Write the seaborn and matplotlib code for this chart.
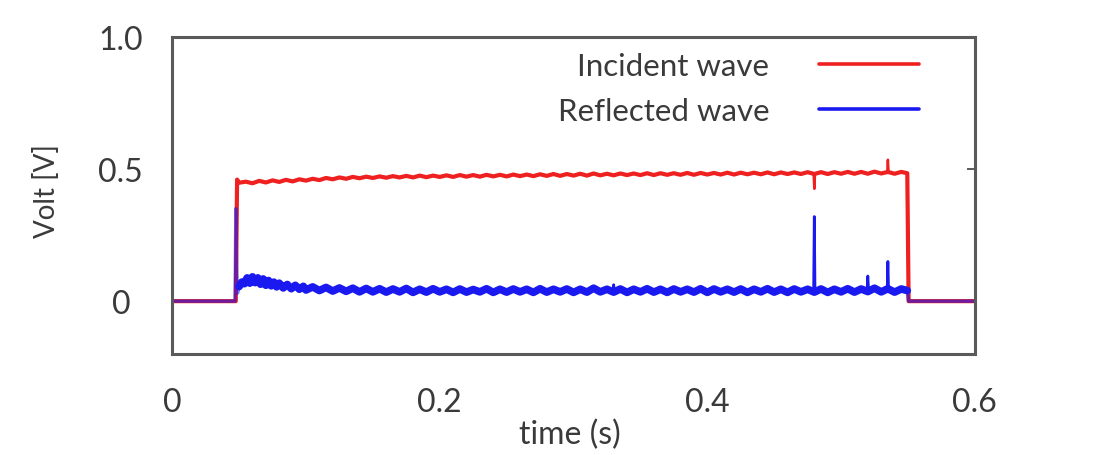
import numpy as np
import pandas as pd
import matplotlib
matplotlib.use("Agg")
import matplotlib.pyplot as plt
import seaborn as sns

# ---------------- data ----------------
grid_t = [round(0.100 + 0.005 * i, 3) for i in range(90)]  # 0.100 .. 0.545 sample times

# Reflected wave: quiet baseline + leading spike, noisy body, trailing drop
refl_pre_t = [0.0, 0.047, 0.0475, 0.0482, 0.0488, 0.050]
refl_pre_v = [0.0, 0.0, 0.35, 0.12, 0.03, 0.055]
refl_head_t = [0.050, 0.052, 0.054, 0.056, 0.058,
               0.060, 0.062, 0.064, 0.066, 0.068, 0.070, 0.072, 0.074, 0.076, 0.078,
               0.080, 0.083, 0.086, 0.089, 0.092, 0.095, 0.098]
refl_head_v = [0.055, 0.072, 0.066, 0.088, 0.068,
               0.092, 0.07, 0.088, 0.064, 0.084, 0.060, 0.078, 0.058, 0.072, 0.054,
               0.068, 0.050, 0.063, 0.047, 0.060, 0.045, 0.056]
refl_grid_v = [0.042, 0.054, 0.040, 0.052, 0.038, 0.050, 0.037, 0.049, 0.035, 0.048,
               0.035, 0.047, 0.034, 0.046, 0.035, 0.048, 0.033, 0.045, 0.034, 0.047,
               0.035, 0.045, 0.033, 0.046, 0.034, 0.044, 0.035, 0.047, 0.033, 0.045,
               0.034, 0.046, 0.035, 0.045, 0.033, 0.047, 0.034, 0.045, 0.035, 0.046,
               0.033, 0.045, 0.034, 0.049, 0.035, 0.045, 0.034, 0.046, 0.033, 0.045,
               0.035, 0.047, 0.034, 0.045, 0.033, 0.046, 0.035, 0.045, 0.034, 0.047,
               0.033, 0.046, 0.035, 0.045, 0.034, 0.046, 0.033, 0.045, 0.035, 0.047,
               0.034, 0.045, 0.033, 0.046, 0.035, 0.045, 0.034, 0.046, 0.033, 0.045,
               0.035, 0.047, 0.034, 0.046, 0.036, 0.049, 0.035, 0.047, 0.034, 0.046]
refl_body_end_t = [0.5495]
refl_body_end_v = [0.040]
refl_post_t = [0.5495, 0.5505, 0.6]
refl_post_v = [0.040, 0.0, 0.0]
refl_spike_id = [1, 1, 1, 2, 2, 2, 3, 3, 3, 4, 4, 4]
refl_spike_t = [0.4795, 0.480, 0.4805, 0.5345, 0.535, 0.5355,
                0.5195, 0.520, 0.5205, 0.3295, 0.330, 0.3305]
refl_spike_v = [0.040, 0.320, 0.040, 0.040, 0.150, 0.040,
                0.045, 0.095, 0.045, 0.040, 0.062, 0.040]

# Incident wave
inc_head_t = [0.0, 0.0475, 0.0485, 0.050, 0.055, 0.060, 0.065, 0.070, 0.075, 0.080,
              0.085, 0.090, 0.095]
inc_head_v = [0.0, 0.0, 0.46, 0.448, 0.452, 0.446, 0.455, 0.449, 0.457, 0.451,
              0.459, 0.453, 0.461]
inc_grid_v = [0.456, 0.463, 0.458, 0.466, 0.461, 0.468, 0.463, 0.470, 0.465, 0.471,
              0.466, 0.472, 0.467, 0.473, 0.468, 0.474, 0.468, 0.475, 0.469, 0.475,
              0.470, 0.476, 0.470, 0.477, 0.471, 0.477, 0.471, 0.478, 0.472, 0.478,
              0.472, 0.479, 0.473, 0.479, 0.473, 0.480, 0.474, 0.481, 0.474, 0.481,
              0.475, 0.482, 0.475, 0.483, 0.476, 0.482, 0.476, 0.483, 0.477, 0.483,
              0.477, 0.484, 0.477, 0.484, 0.478, 0.484, 0.478, 0.485, 0.478, 0.485,
              0.479, 0.485, 0.479, 0.486, 0.479, 0.486, 0.480, 0.486, 0.480, 0.487,
              0.480, 0.487, 0.481, 0.487, 0.481, 0.488, 0.481, 0.488, 0.481, 0.488,
              0.482, 0.489, 0.482, 0.489, 0.482, 0.490, 0.483, 0.489, 0.482, 0.489]
inc_tail_t = [0.5495, 0.5505, 0.6]
inc_tail_v = [0.484, 0.0, 0.0]
inc_spike_id = [1, 1, 1, 2, 2, 2]
inc_spike_t = [0.4795, 0.480, 0.4805, 0.5345, 0.535, 0.5355]
inc_spike_v = [0.481, 0.425, 0.481, 0.485, 0.535, 0.485]

series_names = ["Incident wave", "Reflected wave"]
x_ticks = [0, 0.2, 0.4, 0.6]
x_labels = ["0", "0.2", "0.4", "0.6"]
y_ticks = [0, 0.5, 1.0]
y_labels = ["0", "0.5", "1.0"]

# ---------------- build frames ----------------
inc = pd.DataFrame({"t": inc_head_t + grid_t + inc_tail_t,
                    "v": inc_head_v + inc_grid_v + inc_tail_v})
refl_body = pd.DataFrame({"t": refl_head_t + grid_t + refl_body_end_t,
                          "v": refl_head_v + refl_grid_v + refl_body_end_v})
refl_edges = pd.DataFrame({"id": [0] * len(refl_pre_t) + [1] * len(refl_post_t),
                           "t": refl_pre_t + refl_post_t,
                           "v": refl_pre_v + refl_post_v})
inc_sp = pd.DataFrame({"id": inc_spike_id, "t": inc_spike_t, "v": inc_spike_v})
refl_sp = pd.DataFrame({"id": refl_spike_id, "t": refl_spike_t, "v": refl_spike_v})

# ---------------- plot ----------------
sns.set_style("white")
plt.rcParams["font.family"] = ["Lato", "DejaVu Sans"]

RED = "#ee2020"
BLUE = "#1a1af0"
GREY = "#5a5a5a"
TXT = "#3a3a3a"

fig = plt.figure(figsize=(11.04, 4.56), dpi=100)
ax = fig.add_axes([0.156, 0.2215, 0.727, 0.6955])

sns.lineplot(data=inc, x="t", y="v", ax=ax, color=RED, lw=3.0, label=series_names[0],
             estimator=None, sort=False)
sns.lineplot(data=inc_sp, x="t", y="v", units="id", ax=ax, color=RED, lw=1.8,
             estimator=None, sort=False, legend=False)
sns.lineplot(data=refl_body, x="t", y="v", ax=ax, color=BLUE, lw=5.5,
             label=series_names[1], estimator=None, sort=False)
sns.lineplot(data=refl_edges, x="t", y="v", units="id", ax=ax, color=BLUE, lw=2.4,
             alpha=0.6, estimator=None, sort=False, legend=False)
sns.lineplot(data=refl_sp, x="t", y="v", units="id", ax=ax, color=BLUE, lw=2.0,
             estimator=None, sort=False, legend=False)

ax.set_xlim(0, 0.6)
ax.set_ylim(-0.2, 1.0)
ax.set_xticks(x_ticks)
ax.set_xticklabels(x_labels)
ax.set_yticks(y_ticks)
ax.set_yticklabels(y_labels)
ax.tick_params(axis="both", direction="in", labelsize=23, labelcolor=TXT, color=GREY)
ax.tick_params(axis="x", length=0, pad=24)
ax.tick_params(axis="y", length=6, width=1.4, right=True, pad=37)
for lab in ax.get_yticklabels():
    lab.set_horizontalalignment("center")
for s in ax.spines.values():
    s.set_color(GREY)
    s.set_linewidth(2.2)
    s.set_visible(True)

ax.set_xlabel("time (s)", fontsize=23, color=TXT)
ax.xaxis.set_label_coords(0.496, -0.205)
ax.set_ylabel("Volt [V]", fontsize=20, color=TXT)
ax.yaxis.set_label_coords(-0.14, 0.517)

leg = ax.legend(loc="upper right", frameon=False, markerfirst=False, fontsize=22.5,
                handlelength=3.2, handletextpad=1.6, labelspacing=0.55,
                borderpad=0, borderaxespad=0, bbox_to_anchor=(0.931, 0.952))
for t in leg.get_texts():
    t.set_color(TXT)
for h in leg.get_lines():
    h.set_linewidth(2.6)

fig.savefig("out.png", dpi=100)
